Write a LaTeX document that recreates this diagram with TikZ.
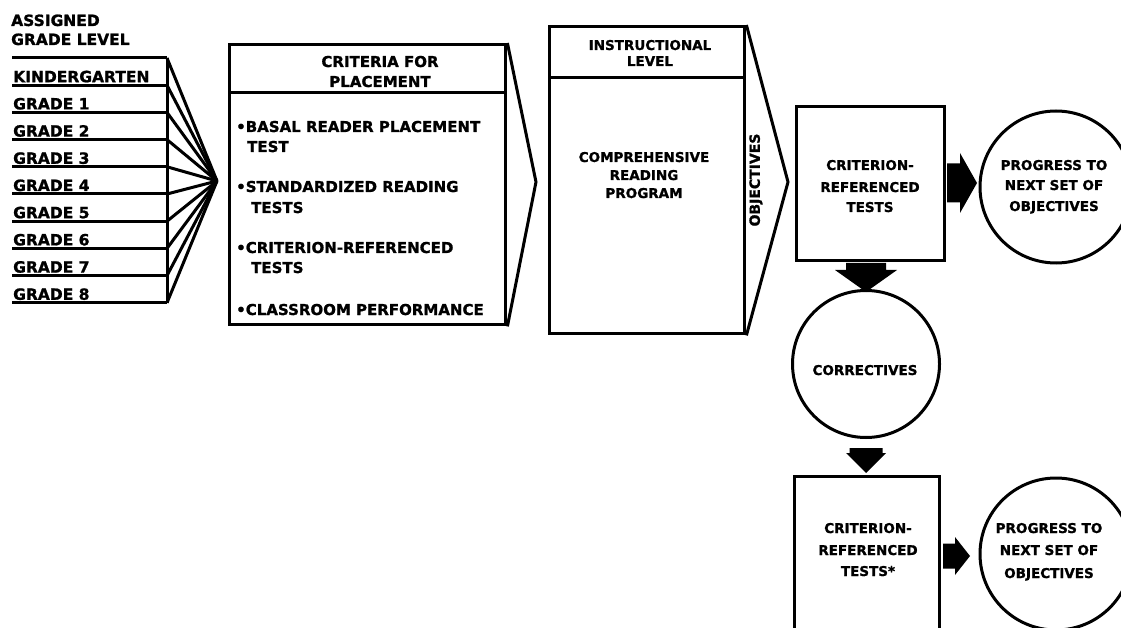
\documentclass[tikz,border=0pt]{standalone}
\usepackage{fontspec}
\setmainfont{DejaVu Sans}[BoldFeatures={FakeBold=1.2}]
\tikzset{
  ln/.style={line width=3pt},
  boxst/.style={draw, line width=3.4pt, inner sep=0pt, anchor=north west},
  circ/.style={draw, circle, line width=3pt, inner sep=0pt},
  gl/.style={font=\fontsize{15.5}{18}\selectfont\bfseries, inner sep=0pt, anchor=base west},
  ci/.style={font=\fontsize{15}{18}\selectfont\bfseries, inner sep=0pt, anchor=base west},
  hd/.style={font=\fontsize{15}{18}\selectfont\bfseries, inner sep=0pt, anchor=base},
  tx/.style={font=\fontsize{13.5}{16}\selectfont\bfseries, inner sep=0pt, anchor=base},
  blk/.style={fill=black, draw=none},
}
\begin{document}
\begin{tikzpicture}[x=1pt,y=-1pt]
\useasboundingbox (0,0) rectangle (1121,628);
\clip (0,0) rectangle (1121,628);

% ---------- assigned grade level ----------
\node[gl] (as1) at (11,26) {ASSIGNED};
\node[gl] (as2) at (11,45) {GRADE LEVEL};

\foreach \i in {0,...,9}{
  \coordinate (gL\i) at (12,{58+27.2*\i});
  \coordinate (gR\i) at (167,{58+27.2*\i});
}
\coordinate (apex) at (217,181);
\foreach \i in {0,...,9}{
  \draw[ln] (gL\i) -- (gR\i);
  \draw[ln] (gR\i) -- (apex);
}
\draw[ln] (gR0) -- (gR9);

\node[gl] (g0) at (13,{58+27.2*1-3}) {KINDERGARTEN};
\foreach \i/\t in {1/GRADE 1,2/GRADE 2,3/GRADE 3,4/GRADE 4,5/GRADE 5,6/GRADE 6,7/GRADE 7,8/GRADE 8}{
  \node[gl] (g\i) at (13,{58+27.2*(\i+1)-3}) {\t};
}

% ---------- criteria for placement ----------
\node[boxst, minimum width=276pt, minimum height=280pt] (crit) at (228,43) {};
\draw[ln] ([yshift=-50pt]crit.north west) -- ([yshift=-50pt]crit.north east);
\coordinate (crittip) at (536,182);
\draw[ln, line join=miter] (crit.north east) -- (crittip) -- (crit.south east);
\node[hd] (ch1) at (380,67) {CRITERIA FOR};
\node[hd] (ch2) at (380,87) {PLACEMENT};
\node[ci] (c1a) at (236,132) {•BASAL READER PLACEMENT};
\node[ci] (c1b) at (247,152) {TEST};
\node[ci] (c2a) at (236,192) {•STANDARDIZED READING};
\node[ci] (c2b) at (251,213) {TESTS};
\node[ci] (c3a) at (236,253) {•CRITERION-REFERENCED};
\node[ci] (c3b) at (251,273) {TESTS};
\node[ci] (c4a) at (236,315) {•CLASSROOM PERFORMANCE};

% ---------- instructional level ----------
\node[boxst, minimum width=195pt, minimum height=307pt] (instr) at (548,25) {};
\draw[ln] ([yshift=-53pt]instr.north west) -- ([yshift=-53pt]instr.north east);
\coordinate (instrtip) at (788,182);
\draw[ln, line join=miter] (instr.north east) -- (instrtip) -- (instr.south east);
\node[tx] (il1) at (650,50) {INSTRUCTIONAL};
\node[tx] (il2) at (650,66) {LEVEL};
\node[tx] (cr1) at (644,162) {COMPREHENSIVE};
\node[tx] (cr2) at (644,180) {READING};
\node[tx] (cr3) at (644,198) {PROGRAM};
\node[font=\fontsize{14}{16}\selectfont\bfseries, inner sep=0pt, rotate=90] (obj) at (756,180) {OBJECTIVES};

% ---------- criterion-referenced tests 1 ----------
\node[boxst, minimum width=148pt, minimum height=154pt] (crt1) at (795,105) {};
\node[tx] (t1a) at (870,170) {CRITERION-};
\node[tx] (t1b) at (870,192) {REFERENCED};
\node[tx] (t1c) at (870,212) {TESTS};

\node[circ, minimum size=152pt] (prog1) at (1056,187) {};
\node[tx] (p1a) at (1054,170) {PROGRESS TO};
\node[tx] (p1b) at (1054,190) {NEXT SET OF};
\node[tx] (p1c) at (1054,211) {OBJECTIVES};

% block arrow right 1
\fill[blk] (947,183) ++(0,-19.5) -- ++(13,0) -- ++(0,-10.5) -- ++(17,30) -- ++(-17,30) -- ++(0,-10.5) -- ++(-13,0) -- cycle;

% ---------- correctives ----------
\node[circ, minimum size=147pt] (corr) at (866,364) {};
\node[tx] (co) at (865,375) {CORRECTIVES};

% block arrow down 1
\fill[blk] (866,263) ++(-20,0) -- ++(0,7) -- ++(-11,0) -- ++(31,22) -- ++(31,-22) -- ++(-11,0) -- ++(0,-7) -- cycle;

% block arrow down 2
\fill[blk] (866,448) ++(-16.5,0) -- ++(0,5) -- ++(-3.5,0) -- ++(20,20) -- ++(20,-20) -- ++(-3.5,0) -- ++(0,-5) -- cycle;

% ---------- criterion-referenced tests 2 ----------
\node[boxst, minimum width=145pt, minimum height=170pt] (crt2) at (793,475) {};
\node[tx] (t2a) at (868,533) {CRITERION-};
\node[tx] (t2b) at (868,555) {REFERENCED};
\node[tx] (t2c) at (868,576) {TESTS*};

\node[circ, minimum size=152pt] (prog2) at (1056,554) {};
\node[tx] (p2a) at (1049,533) {PROGRESS TO};
\node[tx] (p2b) at (1049,555) {NEXT SET OF};
\node[tx] (p2c) at (1049,578) {OBJECTIVES};

% block arrow right 2
\fill[blk] (943,556) ++(0,-12.5) -- ++(12,0) -- ++(0,-6.5) -- ++(15,19) -- ++(-15,19) -- ++(0,-6.5) -- ++(-12,0) -- cycle;
\end{tikzpicture}
\end{document}
